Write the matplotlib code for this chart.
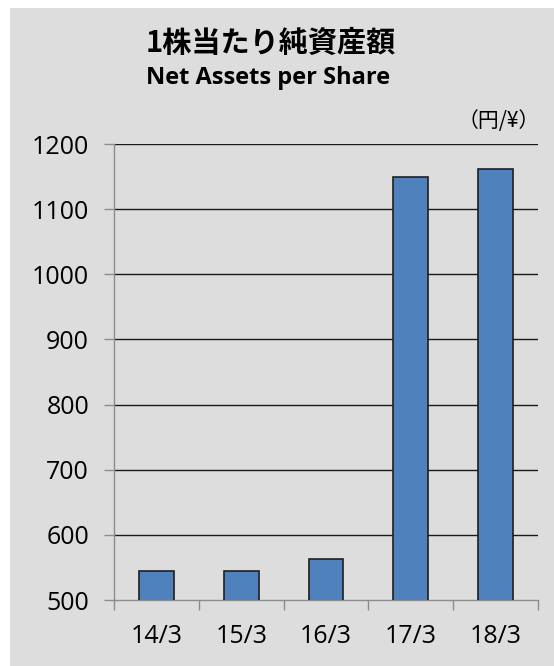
import matplotlib
matplotlib.use("Agg")
import matplotlib.pyplot as plt
from matplotlib.patches import Rectangle

categories = ["14/3", "15/3", "16/3", "17/3", "18/3"]
values = [545, 545, 563, 1149, 1162]
yticks = [500, 600, 700, 800, 900, 1000, 1100, 1200]

W, H = 554, 666
fig = plt.figure(figsize=(W / 100, H / 100), dpi=100)
fig.patch.set_facecolor("white")
fig.patches.append(Rectangle((10 / W, 0), 1 - 10 / W, 1 - 8 / H, transform=fig.transFigure,
                             facecolor="#dddddd", edgecolor="none", zorder=-10))

ax = fig.add_axes([114 / W, 1 - 600 / H, (538 - 114) / W, (600 - 144) / H])
ax.set_facecolor("none")

x = list(range(len(categories)))
ax.bar(x, values, width=0.41, color="#4f81bd", edgecolor="#1f1f1f", linewidth=1.2, zorder=3)

ax.set_ylim(500, 1200)
ax.set_xlim(-0.5, len(categories) - 0.5)
ax.set_yticks(yticks)
ax.set_yticklabels([str(v) for v in yticks], fontsize=18, family=["Open Sans", "DejaVu Sans"])
for v in yticks[1:]:
    ax.axhline(v, color="#1a1a1a", linewidth=1.0, zorder=2)

ax.set_xticks([i - 0.5 for i in range(len(categories) + 1)])
ax.set_xticklabels([])
ax.set_xticks(x, minor=True)
ax.set_xticklabels(categories, minor=True, fontsize=18, family=["Open Sans", "DejaVu Sans"])
ax.tick_params(axis="x", which="major", length=7, color="#8c8c8c", width=1)
ax.tick_params(axis="x", which="minor", length=0, pad=17)
ax.tick_params(axis="y", length=7, color="#8c8c8c", width=1, pad=11)

for s in ["top", "right"]:
    ax.spines[s].set_visible(False)
for s in ["left", "bottom"]:
    ax.spines[s].set_color("#8c8c8c")
    ax.spines[s].set_linewidth(1)

fig.text(271 / W, 1 - 43 / H, "1株当たり純資産額", ha="center", va="center",
         fontsize=21, fontweight="bold", family=["Noto Sans CJK JP", "DejaVu Sans"])
fig.text(268 / W, 1 - 78 / H, "Net Assets per Share", ha="center", va="center",
         fontsize=17, fontweight="bold", family=["Open Sans", "DejaVu Sans"])
fig.text(499 / W, 1 - 121 / H, "（円/¥）", ha="center", va="center",
         fontsize=15, family=["Noto Sans CJK JP", "DejaVu Sans"])

fig.savefig("out.png", dpi=100)
